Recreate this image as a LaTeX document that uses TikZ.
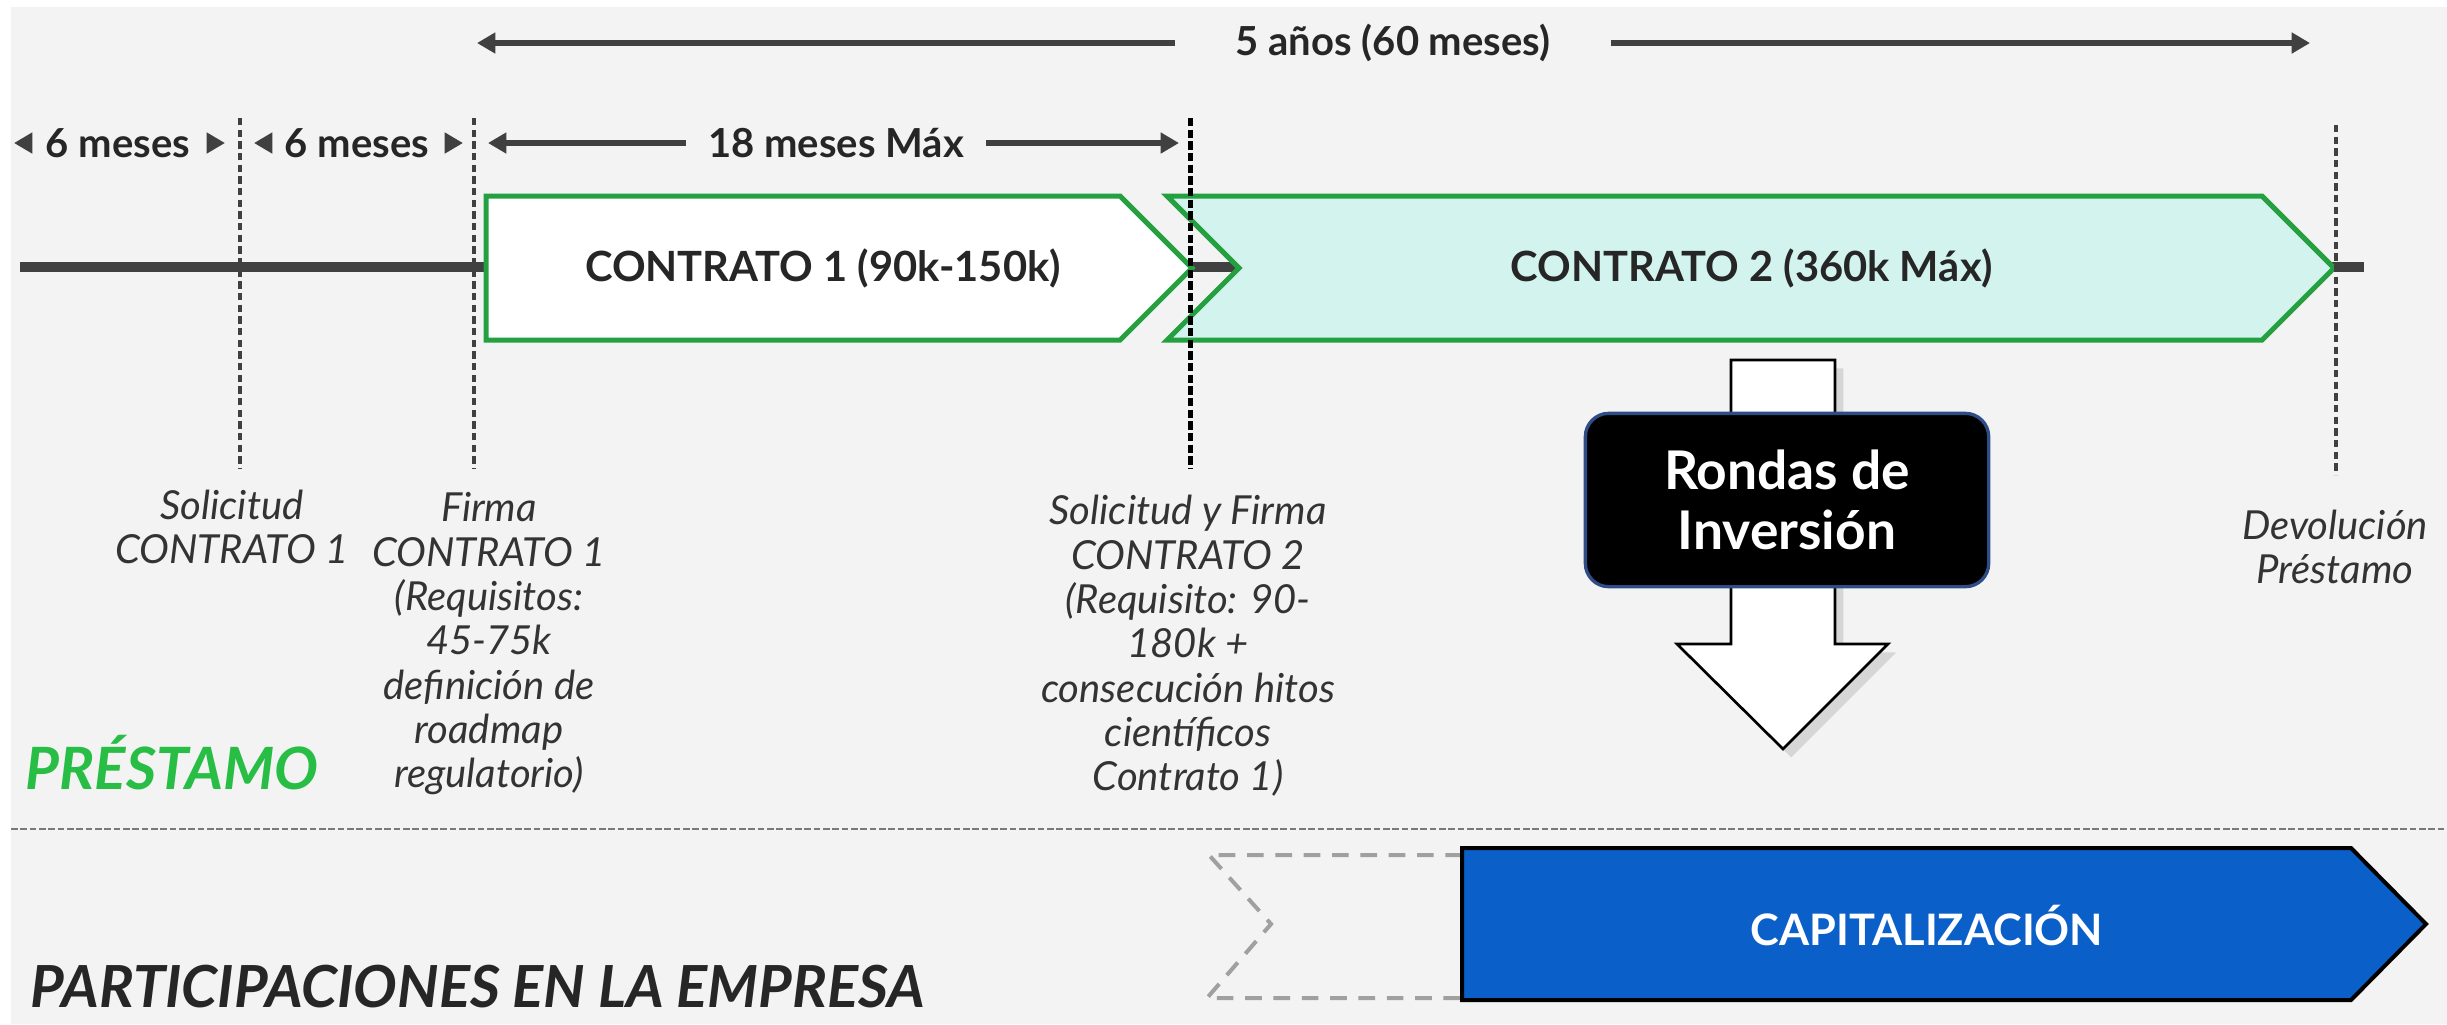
\documentclass[tikz,border=0pt]{standalone}
\usepackage{fontspec}
\setmainfont{Lato}
\usetikzlibrary{arrows.meta,shadows}
\definecolor{bg}{HTML}{F3F3F3}
\definecolor{darkline}{HTML}{404040}
\definecolor{txt}{HTML}{262626}
\definecolor{lbltxt}{HTML}{333333}
\definecolor{cgreen}{RGB}{36,160,64}
\definecolor{pgreen}{RGB}{40,190,70}
\definecolor{mint}{HTML}{D3F4EE}
\definecolor{capblue}{RGB}{11,95,200}
\definecolor{rborder}{HTML}{2E4C85}
\definecolor{dgray}{HTML}{A0A0A0}
\tikzset{
  arr/.style={draw=darkline, line width=2pt, -{Triangle[length=5.5pt,width=6pt]}},
  vdash/.style={draw=darkline, line width=1.4pt, dash pattern=on 2.2pt off 1.3pt},
  vdashblk/.style={draw=black, line width=1.5pt, dash pattern=on 2.5pt off 1pt},
  chev/.style={draw=cgreen, line width=1.5pt, line join=miter},
  ctext/.style={font=\bfseries\fontsize{12.5}{14}\selectfont, text=txt},
  toptext/.style={font=\bfseries\fontsize{12}{14}\selectfont, text=txt, inner ysep=0pt},
  lbl/.style={font=\itshape\fontsize{12}{13.3}\selectfont, text=lbltxt, align=center, inner sep=0pt},
}
\begin{document}
\begin{tikzpicture}[x=0.3pt,y=-0.3pt]
\useasboundingbox (0,0) rectangle (2447,1024);
\fill[white] (0,0) rectangle (2447,1024);
\fill[bg] (11,7) rectangle (2447,1024);

% main timeline
\coordinate (tl0) at (20,267);
\coordinate (tl1) at (2364,267);
\draw[darkline, line width=3pt] (tl0) -- (tl1);

% contract chevrons
\draw[chev, fill=white] (486,196) -- (1120,196) -- (1192,268) -- (1120,340) -- (486,340) -- cycle;
\draw[chev, fill=mint] (1167,196) -- (2262,196) -- (2334,268) -- (2262,340) -- (1167,340) -- (1239,268) -- cycle;
\node[ctext] (c1) at (823,268) {CONTRATO 1 (90k-150k)};
\node[ctext] (c2) at (1752,268) {CONTRATO 2 (360k Máx)};

% vertical dashed markers
\coordinate (d1t) at (240,118); \coordinate (d1b) at (240,469);
\coordinate (d2t) at (474,118); \coordinate (d2b) at (474,469);
\coordinate (d3t) at (1190,118); \coordinate (d3b) at (1190,469);
\coordinate (d4t) at (2336,125); \coordinate (d4b) at (2336,475);
\draw[vdash] (d1t) -- (d1b);
\draw[vdash] (d2t) -- (d2b);
\draw[vdashblk] (d3t) -- (d3b);
\draw[vdash] (d4t) -- (d4b);

% top arrow: 5 anos
\node[toptext, inner xsep=18pt] (t5) at (1393,43) {5 años (60 meses)};
\coordinate (t5l) at (477,43);
\coordinate (t5r) at (2310,43);
\draw[arr] (t5.west) -- (t5l);
\draw[arr] (t5.east) -- (t5r);

% second row
\node[toptext, inner xsep=6pt] (m1) at (118,143) {6 meses};
\coordinate (m1l) at (14,143); \coordinate (m1r) at (225,143);
\draw[arr] (m1.west) -- (m1l);
\draw[arr] (m1.east) -- (m1r);
\node[toptext, inner xsep=6pt] (m2) at (357,143) {6 meses};
\coordinate (m2l) at (254,143); \coordinate (m2r) at (463,143);
\draw[arr] (m2.west) -- (m2l);
\draw[arr] (m2.east) -- (m2r);
\node[toptext, inner xsep=6.5pt] (m3) at (836,143) {18 meses Máx};
\coordinate (m3l) at (488,143); \coordinate (m3r) at (1179,143);
\draw[arr] (m3.west) -- (m3l);
\draw[arr] (m3.east) -- (m3r);

% labels
\node[lbl] (l1) at (232,527) {Solicitud\\CONTRATO 1};
\node[lbl] (l2) at (489,644) {Firma\\CONTRATO 1\\(Requisitos:\\45-75k\\definición de\\roadmap\\regulatorio)};
\node[lbl] (l3) at (1188,646) {Solicitud y Firma\\CONTRATO 2\\(Requisito: 90-\\180k +\\consecución hitos\\científicos\\Contrato 1)};
\node[lbl] (l4) at (2335,547) {Devolución\\Préstamo};

% investment arrow and box
\draw[fill=white, draw=black, line width=0.8pt, line join=miter,
  drop shadow={shadow xshift=2.5pt, shadow yshift=-2.5pt, opacity=0.25}]
  (1731,360) -- (1835,360) -- (1835,644) -- (1888,644) -- (1783,749) -- (1677,644) -- (1731,644) -- cycle;
\node[fill=black, draw=rborder, line width=1pt, rounded corners=7pt,
  minimum width=121pt, minimum height=52pt, align=center, text=white,
  font=\bfseries\fontsize{16}{18}\selectfont] (rondas) at (1787,500) {Rondas de\\Inversión};

% section titles
\node[anchor=base, font=\bfseries\itshape\fontsize{17.5}{19}\selectfont, text=pgreen] (prest) at (172,789) {PRÉSTAMO};
\draw[darkline!70, line width=0.6pt, dash pattern=on 2pt off 0.8pt] (11,829) coordinate (sepl) -- (2447,829) coordinate (sepr);
\node[anchor=base west, inner sep=0pt, font=\bfseries\itshape\fontsize{17.4}{19}\selectfont, text=txt] (part) at (30,1007) {PARTICIPACIONES EN LA EMPRESA};

% capitalization
\draw[dgray, line width=1.2pt, dash pattern=on 5pt off 3.5pt] (1462,855) -- (1209,855) -- (1271,924) -- (1207,998) -- (1462,998);
\draw[fill=capblue, draw=black, line width=1.2pt, line join=miter] (1462,848) -- (2351,848) -- (2426,924) -- (2351,1000) -- (1462,1000) -- cycle;
\node[font=\bfseries\fontsize{13}{15}\selectfont, text=white] (cap) at (1927,925) {CAPITALIZACIÓN};
\end{tikzpicture}
\end{document}
